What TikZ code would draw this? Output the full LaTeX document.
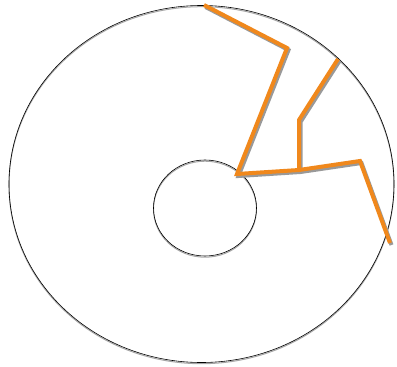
\documentclass[tikz,border=0pt]{standalone}
\usepackage{tikz}

\tikzset{
  rim/.style={line width=0.6pt, black},
  rimshadow/.style={line width=1pt, black!35},
  crack/.style={line width=4pt, color=crackorange, line join=miter, line cap=butt},
  crackshadow/.style={line width=4pt, black!40, line join=miter}
}
\definecolor{crackorange}{RGB}{240,136,28}

\begin{document}
\begin{tikzpicture}[x=1pt, y=-1pt]

  % Canvas
  \useasboundingbox (0,0) rectangle (397,367);

  % --- Outer rim and hub hole ---
  \draw[rimshadow] (201.5,185.2) ellipse (192.5 and 178.5);
  \draw[rim] (201.5,184) ellipse (192.5 and 178.5);
  \draw[rimshadow] (205,209.2) ellipse (51.5 and 48);
  \draw[rim] (205,208) ellipse (51.5 and 48);

  % --- Crack vertices ---
  \coordinate (top)    at (204,5);
  \coordinate (kink)   at (287,48);
  \coordinate (hub)    at (237,174);
  \coordinate (fork)   at (299,170);
  \coordinate (bend)   at (360,161);
  \coordinate (edge)   at (390,243);
  \coordinate (riser)  at (299,120);
  \coordinate (tip)    at (338,59);

  % --- Shadow under the crack ---
  \begin{scope}[transform canvas={shift={(1.5pt,-2pt)}}]
    \draw[crackshadow] (top) -- (kink) -- (hub) -- (fork) -- (bend) -- (edge);
    \draw[crackshadow] (fork) -- (riser) -- (tip);
  \end{scope}

  % --- Crack ---
  \draw[crack] (top) -- (kink) -- (hub) -- (fork) -- (bend) -- (edge);
  \draw[crack] (fork) -- (riser) -- (tip);

\end{tikzpicture}
\end{document}
